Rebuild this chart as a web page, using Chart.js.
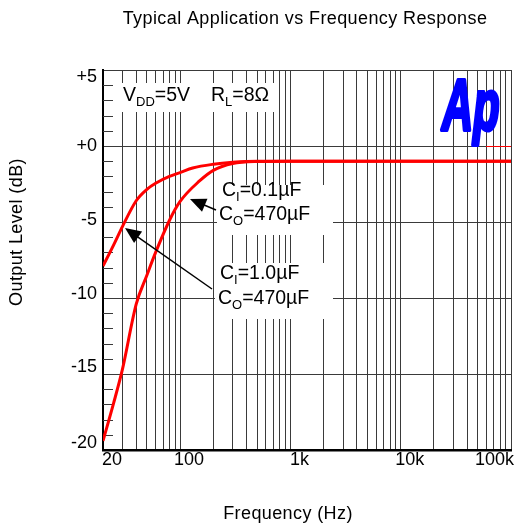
<!DOCTYPE html>
<html>
<head>
<meta charset="utf-8">
<script src="https://cdn.jsdelivr.net/npm/chart.js@4.4.1/dist/chart.umd.min.js"></script>
<style>
  body { margin: 0; background: #fff; }
  canvas { display: block; }
</style>
</head>
<body>
<canvas id="freqChart" width="524" height="527"></canvas>
<script>
// ================== Data ==================
const xLabelValues = [20, 100, 1000, 10000, 100000];
const xLabels = ["20", "100", "1k", "10k", "100k"];
const yLabelValues = [5, 0, -5, -10, -15, -20];
const yLabels = ["+5", "+0", "-5", "-10", "-15", "-20"];

// CI = 1.0uF, CO = 470uF
const freqA = [20, 25, 30, 40, 50, 60, 80, 100, 130, 200, 300, 500, 1000, 100000];
const levelA = [-7.9, -6.5, -5.3, -3.6, -2.85, -2.45, -2.0, -1.75, -1.45, -1.2, -1.07, -1.0, -1.0, -1.0];

// CI = 0.1uF, CO = 470uF
const freqB = [20, 25, 30, 40, 50, 60, 80, 100, 150, 200, 300, 500, 1000, 100000];
const levelB = [-19.4, -16.9, -14.7, -10.4, -8.5, -7.0, -4.9, -3.65, -2.3, -1.6, -1.15, -1.02, -1.0, -1.0];

// grid lines at 1..9 of every decade
const gridFreqs = [];
[10, 100, 1000, 10000].forEach((dec) => {
  for (let m = 1; m <= 9; m++) {
    const f = m * dec;
    if (f >= 20) gridFreqs.push(f);
  }
});
gridFreqs.push(100000);

const FONT = "Liberation Sans, Arial, sans-serif";
const GRID = "#3a3a3a";

// ================== Helpers ==================
function drawSubText(ctx, parts, x, y) {
  ctx.save();
  ctx.fillStyle = "#000";
  ctx.textAlign = "left";
  ctx.textBaseline = "middle";
  let cx = x;
  parts.forEach(([txt, sub]) => {
    ctx.font = (sub ? "13px " : "19.5px ") + FONT;
    ctx.fillText(txt, cx, sub ? y + 6 : y);
    cx += ctx.measureText(txt).width;
  });
  ctx.restore();
}

function whiteBox(ctx, x1, y1, x2, y2) {
  ctx.fillStyle = "#fff";
  ctx.fillRect(x1, y1, x2 - x1, y2 - y1);
}

function arrow(ctx, x1, y1, x2, y2) {
  const ang = Math.atan2(y2 - y1, x2 - x1);
  const len = 16, half = 7;
  ctx.save();
  ctx.strokeStyle = "#000";
  ctx.fillStyle = "#000";
  ctx.lineWidth = 1.5;
  ctx.beginPath();
  ctx.moveTo(x1, y1);
  ctx.lineTo(x2 - Math.cos(ang) * len * 0.8, y2 - Math.sin(ang) * len * 0.8);
  ctx.stroke();
  ctx.beginPath();
  ctx.moveTo(x2, y2);
  ctx.lineTo(x2 - Math.cos(ang) * len + Math.sin(ang) * half, y2 - Math.sin(ang) * len - Math.cos(ang) * half);
  ctx.lineTo(x2 - Math.cos(ang) * len - Math.sin(ang) * half, y2 - Math.sin(ang) * len + Math.cos(ang) * half);
  ctx.closePath();
  ctx.fill();
  ctx.restore();
}

// ================== Overlay plugin ==================
const overlay = {
  id: "overlay",
  beforeDatasetsDraw(chart) {
    const { ctx, chartArea: a, scales } = chart;
    const xs = scales.x, ys = scales.y;

    // label boxes hide the grid
    whiteBox(ctx, a.left + 2, 83, 277, 112);
    whiteBox(ctx, 217, 185, 333, 235);
    whiteBox(ctx, 215, 263, 333, 319);

    // minor dB ticks
    ctx.save();
    ctx.strokeStyle = GRID;
    ctx.lineWidth = 1;
    for (let v = -19; v <= 4; v++) {
      if (v % 5 === 0) continue;
      const y = Math.round(ys.getPixelForValue(v)) + 0.5;
      ctx.beginPath();
      ctx.moveTo(a.left, y);
      ctx.lineTo(a.left + 10, y);
      ctx.stroke();
    }
    ctx.restore();

    drawSubText(ctx, [["V", false], ["DD", true], ["=5V", false]], 123, 96);
    drawSubText(ctx, [["R", false], ["L", true], ["=8\u03A9", false]], 211, 96);
    drawSubText(ctx, [["C", false], ["I", true], ["=0.1\u00B5F", false]], 222, 191);
    drawSubText(ctx, [["C", false], ["O", true], ["=470\u00B5F", false]], 219, 215);
    drawSubText(ctx, [["C", false], ["I", true], ["=1.0\u00B5F", false]], 220, 274);
    drawSubText(ctx, [["C", false], ["O", true], ["=470\u00B5F", false]], 218, 299);

    // Ap logo
    ctx.save();
    ctx.fillStyle = "#0000ff";
    ctx.strokeStyle = "#0000ff";
    ctx.lineJoin = "round";
    ctx.translate(442, 130);
    ctx.scale(0.6, 1);
    ctx.font = "italic bold 72px " + FONT;
    ctx.lineWidth = 4;
    ctx.textBaseline = "alphabetic";
    ctx.fillText("Ap", 0, 0);
    ctx.strokeText("Ap", 0, 0);
    ctx.restore();
    ctx.save();
    ctx.strokeStyle = "#ff0000";
    ctx.lineWidth = 1;
    ctx.beginPath();
    ctx.moveTo(486, Math.round(ys.getPixelForValue(0)) + 0.5);
    ctx.lineTo(a.right, Math.round(ys.getPixelForValue(0)) + 0.5);
    ctx.stroke();
    ctx.restore();

    // tick labels
    ctx.save();
    ctx.fillStyle = "#000";
    ctx.font = "18px " + FONT;
    ctx.textBaseline = "middle";
    ctx.textAlign = "right";
    const yOff = [7, 0, -2, -4, -7, -7];
    yLabelValues.forEach((v, i) => {
      ctx.fillText(yLabels[i], 97, ys.getPixelForValue(v) + yOff[i]);
    });
    xLabelValues.forEach((v, i) => {
      const last = i === xLabelValues.length - 1;
      ctx.textAlign = last ? "right" : "center";
      const x = last ? a.right + 3 : xs.getPixelForValue(v) + 9;
      ctx.fillText(xLabels[i], x, 460);
    });

    // titles
    ctx.font = "18px " + FONT;
    ctx.letterSpacing = "0.4px";
    ctx.textAlign = "center";
    ctx.fillText("Typical Application vs Frequency Response", 305, 19);
    ctx.fillText("Frequency (Hz)", 288, 514);
    ctx.translate(17, 232);
    ctx.rotate(-Math.PI / 2);
    ctx.fillText("Output Level (dB)", 0, 0);
    ctx.restore();
  },
  afterDatasetsDraw(chart) {
    const { ctx } = chart;
    arrow(ctx, 216, 210, 190, 199);
    arrow(ctx, 212, 289, 125, 228);
  },
};

// ================== Chart ==================
const ctx = document.getElementById("freqChart").getContext("2d");
new Chart(ctx, {
  type: "line",
  data: {
    datasets: [
      {
        label: "CI=1.0uF",
        data: freqA.map((f, i) => ({ x: f, y: levelA[i] })),
        borderColor: "#ff0000",
        borderWidth: 3,
        pointRadius: 0,
        cubicInterpolationMode: "monotone",
      },
      {
        label: "CI=0.1uF",
        data: freqB.map((f, i) => ({ x: f, y: levelB[i] })),
        borderColor: "#ff0000",
        borderWidth: 3,
        pointRadius: 0,
        cubicInterpolationMode: "monotone",
      },
    ],
  },
  options: {
    responsive: false,
    animation: false,
    events: [],
    layout: { padding: { left: 103, right: 13, top: 70, bottom: 77 } },
    plugins: { legend: { display: false }, tooltip: { enabled: false } },
    scales: {
      x: {
        type: "logarithmic",
        min: 20,
        max: 100000,
        afterBuildTicks: (scale) => {
          scale.ticks = gridFreqs.map((v) => ({ value: v }));
        },
        ticks: { display: false },
        grid: { color: GRID, lineWidth: 1, drawTicks: false },
        border: { color: "#000", width: 2.5 },
      },
      y: {
        min: -20,
        max: 5,
        ticks: { display: false, stepSize: 5 },
        grid: { color: GRID, lineWidth: 1, drawTicks: false },
        border: { color: "#000", width: 2 },
      },
    },
  },
  plugins: [overlay],
});
</script>
</body>
</html>
